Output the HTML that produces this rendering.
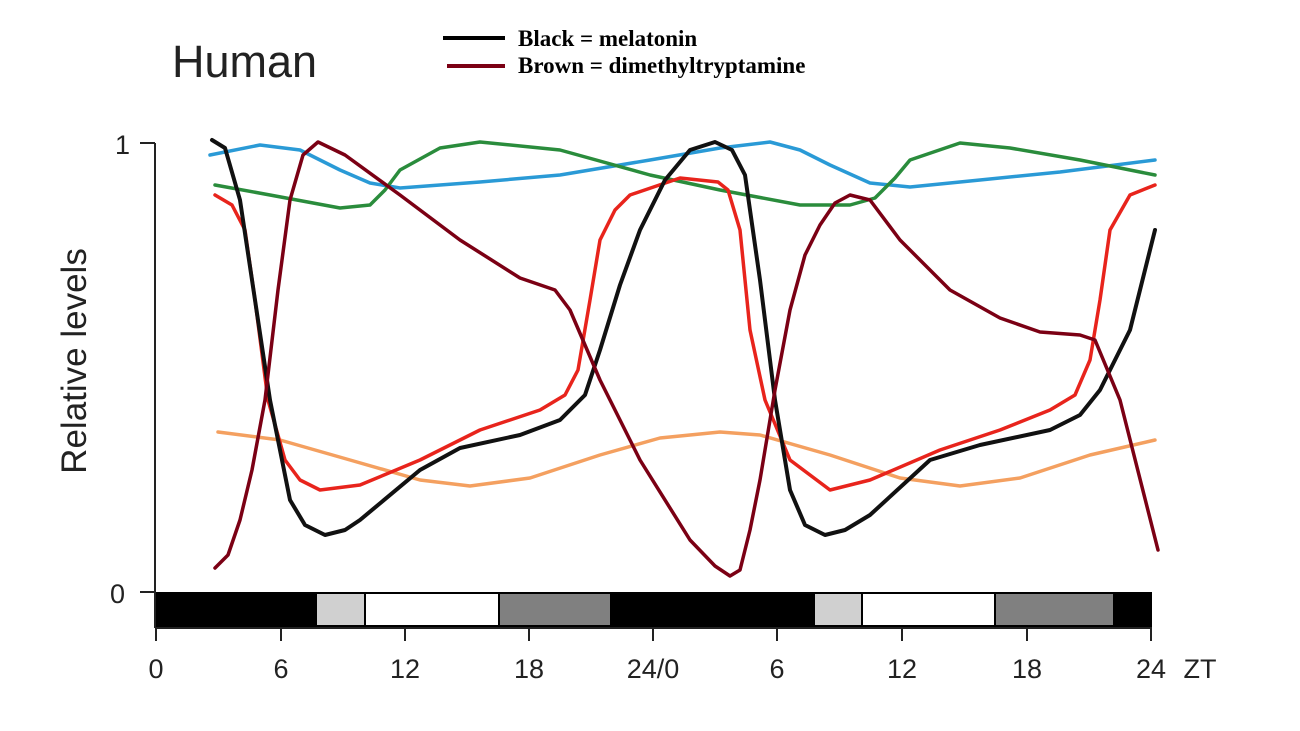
<!DOCTYPE html>
<html><head><meta charset="utf-8"><style>
html,body{margin:0;padding:0;background:#fff;}
svg{display:block}
</style></head><body>
<svg width="1300" height="731" viewBox="0 0 1300 731" xmlns="http://www.w3.org/2000/svg">
<rect width="1300" height="731" fill="#fff"/>
<text x="172" y="77" font-family="Liberation Sans, sans-serif" font-size="45" fill="#222">Human</text>
<line x1="443" y1="38" x2="505" y2="38" stroke="#000" stroke-width="4"/>
<text x="518" y="46" font-family="Liberation Serif, serif" font-weight="bold" font-size="23" fill="#000">Black = melatonin</text>
<line x1="447" y1="66" x2="505" y2="66" stroke="#7b0014" stroke-width="4"/>
<text x="518" y="73" font-family="Liberation Serif, serif" font-weight="bold" font-size="23" fill="#000">Brown = dimethyltryptamine</text>
<text transform="translate(86,361) rotate(-90)" text-anchor="middle" font-family="Liberation Sans, sans-serif" font-size="35" fill="#222">Relative levels</text>
<line x1="155" y1="143" x2="155" y2="628" stroke="#222" stroke-width="2"/>
<line x1="140" y1="143" x2="155" y2="143" stroke="#222" stroke-width="2"/>
<line x1="140" y1="592" x2="155" y2="592" stroke="#222" stroke-width="2"/>
<text x="115" y="154" font-family="Liberation Sans, sans-serif" font-size="27" fill="#222">1</text>
<text x="110" y="603" font-family="Liberation Sans, sans-serif" font-size="27" fill="#222">0</text>
<rect x="156" y="592" width="160" height="35" fill="#000"/>
<rect x="316" y="593" width="49" height="33" fill="#d0d0d0" stroke="#000" stroke-width="2"/>
<rect x="365" y="593" width="134" height="33" fill="#fff" stroke="#000" stroke-width="2"/>
<rect x="499" y="593" width="112" height="33" fill="#808080" stroke="#000" stroke-width="2"/>
<rect x="611" y="592" width="203" height="35" fill="#000"/>
<rect x="814" y="593" width="48" height="33" fill="#d0d0d0" stroke="#000" stroke-width="2"/>
<rect x="862" y="593" width="133" height="33" fill="#fff" stroke="#000" stroke-width="2"/>
<rect x="995" y="593" width="119" height="33" fill="#808080" stroke="#000" stroke-width="2"/>
<rect x="1114" y="592" width="38" height="35" fill="#000"/>
<line x1="155" y1="628" x2="1152" y2="628" stroke="#222" stroke-width="2"/>
<g stroke="#222" stroke-width="2">
<line x1="156" y1="628" x2="156" y2="641"/><line x1="281" y1="628" x2="281" y2="641"/>
<line x1="405" y1="628" x2="405" y2="641"/><line x1="529" y1="628" x2="529" y2="641"/>
<line x1="653" y1="628" x2="653" y2="641"/><line x1="777" y1="628" x2="777" y2="641"/>
<line x1="902" y1="628" x2="902" y2="641"/><line x1="1027" y1="628" x2="1027" y2="641"/>
<line x1="1151" y1="628" x2="1151" y2="641"/></g>
<g font-family="Liberation Sans, sans-serif" font-size="27" fill="#222" text-anchor="middle">
<text x="156" y="678">0</text><text x="281" y="678">6</text><text x="405" y="678">12</text>
<text x="529" y="678">18</text><text x="653" y="678">24/0</text><text x="777" y="678">6</text>
<text x="902" y="678">12</text><text x="1027" y="678">18</text><text x="1151" y="678">24</text>
<text x="1200" y="678">ZT</text></g>
<g fill="none" stroke-linejoin="round" stroke-linecap="round">
<polyline stroke="#2a9ad6" stroke-width="3.5" points="210,155 260,145 300,150 340,170 370,183 400,188 480,182 560,175 650,160 720,148 770,142 800,150 830,165 870,183 910,187 980,180 1060,172 1155,160"/>
<polyline stroke="#2a8c3c" stroke-width="3.5" points="215,185 270,195 340,208 370,205 385,190 400,170 440,148 480,142 560,150 650,175 720,190 800,205 850,205 875,198 895,178 910,160 960,143 1010,148 1080,160 1155,175"/>
<polyline stroke="#f4a060" stroke-width="3.5" points="218,432 280,440 350,460 420,480 470,486 530,478 600,455 660,438 720,432 760,435 830,455 900,478 960,486 1020,478 1090,455 1155,440"/>
<polyline stroke="#e8241c" stroke-width="3.5" points="215,195 232,205 245,230 255,300 268,400 285,460 300,480 320,490 360,485 420,460 480,430 540,410 565,395 578,370 590,300 600,240 615,210 630,195 680,178 718,182 728,190 740,230 750,330 765,400 790,460 830,490 870,480 940,450 1000,430 1050,410 1075,395 1090,360 1100,300 1110,230 1130,195 1155,185"/>
<polyline stroke="#111" stroke-width="4" points="212,140 225,148 240,200 255,300 270,400 290,500 305,525 325,535 345,530 360,520 420,470 460,448 520,435 560,420 585,395 600,350 620,285 640,230 665,180 690,150 715,142 732,150 745,175 760,280 775,400 790,490 805,525 825,535 845,530 870,515 930,460 980,445 1050,430 1080,415 1100,390 1130,330 1155,230"/>
<polyline stroke="#7b0014" stroke-width="3.5" points="215,568 228,555 240,520 252,470 265,400 278,290 290,200 303,155 318,142 345,155 400,195 460,240 520,278 555,290 570,310 600,380 640,460 690,540 715,566 730,576 740,570 750,530 760,480 775,390 790,310 805,255 820,225 835,203 850,195 870,200 900,240 950,290 1000,318 1040,332 1080,335 1095,340 1120,400 1158,550"/>
</g>
</svg>
</body></html>
